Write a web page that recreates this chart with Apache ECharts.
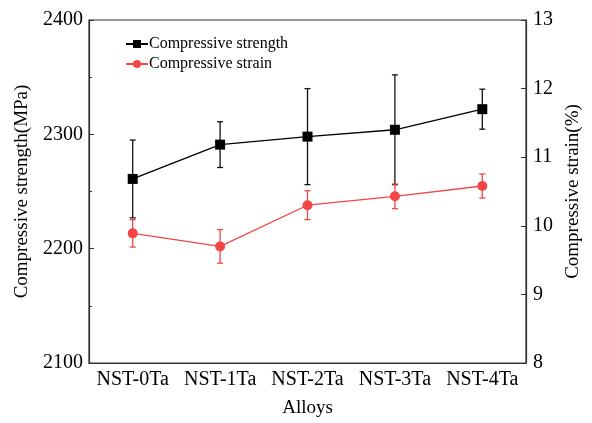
<!DOCTYPE html>
<html><head><meta charset="utf-8">
<script src="https://cdn.jsdelivr.net/npm/echarts@6/dist/echarts.min.js"></script>
<style>html,body{margin:0;padding:0;background:#fff}#c{width:592px;height:423px}</style>
</head><body><div id="c"></div>
<script>
const categories = ['NST-0Ta','NST-1Ta','NST-2Ta','NST-3Ta','NST-4Ta'];
const strength = [2261, 2291, 2298, 2304, 2322];
const strengthErr = [34, 20, 42, 48, 17.5];
const strain = [9.89, 9.70, 10.30, 10.43, 10.58];
const strainErr = [0.20, 0.245, 0.21, 0.18, 0.175];
const leftTicks = [2100, 2400, 100];
const rightTicks = [8, 13, 1];

const FONT = 'Liberation Serif';
const RED = '#f24545';

function errSeries(vals, errs, yIdx, color, name) {
  return {
    type: 'custom', name: name, yAxisIndex: yIdx, z: 1, silent: true,
    data: vals.map((v, i) => [i, v - errs[i], v + errs[i]]),
    renderItem: function (params, api) {
      const x = api.value(0);
      const lo = api.coord([x, api.value(1)]);
      const hi = api.coord([x, api.value(2)]);
      const hw = 3;
      const st = { stroke: color, lineWidth: 1.3 };
      return { type: 'group', children: [
        { type: 'line', shape: { x1: lo[0], y1: lo[1], x2: hi[0], y2: hi[1] }, style: st },
        { type: 'line', shape: { x1: lo[0]-hw, y1: lo[1], x2: lo[0]+hw, y2: lo[1] }, style: st },
        { type: 'line', shape: { x1: hi[0]-hw, y1: hi[1], x2: hi[0]+hw, y2: hi[1] }, style: st }
      ]};
    }
  };
}

const chart = echarts.init(document.getElementById('c'));
chart.setOption({
  animation: false,
  textStyle: { fontFamily: FONT },
  grid: { left: 89, right: 66, top: 20, bottom: 53, show: true, borderColor: '#333', borderWidth: 1.2 },
  legend: {
    orient: 'vertical', left: 120, top: 31, itemGap: 4, itemWidth: 22, itemHeight: 10,
    textStyle: { fontFamily: FONT, fontSize: 16, color: '#000', padding: [0,0,0,-4] },
    data: ['Compressive strength', 'Compressive strain']
  },
  xAxis: {
    type: 'category', data: categories, boundaryGap: true,
    name: 'Alloys', nameLocation: 'middle', nameGap: 36,
    nameTextStyle: { fontFamily: FONT, fontSize: 19, color: '#000' },
    axisLine: { lineStyle: { color: '#333', width: 1.2 } },
    axisTick: { inside: true, alignWithLabel: true, length: 4, lineStyle: { color: '#333' } },
    axisLabel: { fontFamily: FONT, fontSize: 20, color: '#000', margin: 7, interval: 0 }
  },
  yAxis: [{
    type: 'value', min: leftTicks[0], max: leftTicks[1], interval: leftTicks[2],
    name: 'Compressive strength(MPa)', nameLocation: 'middle', nameGap: 57,
    nameTextStyle: { fontFamily: FONT, fontSize: 19, color: '#000' },
    axisLine: { show: true, lineStyle: { color: '#333', width: 1.2 } },
    axisTick: { show: true, inside: true, length: 5, lineStyle: { color: '#333' } },
    minorTick: { show: true, splitNumber: 2, length: 3, lineStyle: { color: '#333' } },
    splitLine: { show: false },
    axisLabel: { fontFamily: FONT, fontSize: 20, color: '#000', margin: 6, formatter: v => String(v) }
  }, {
    type: 'value', min: rightTicks[0], max: rightTicks[1], interval: rightTicks[2], position: 'right',
    name: 'Compressive strain(%)', nameLocation: 'middle', nameGap: 36, nameRotate: 90,
    nameTextStyle: { fontFamily: FONT, fontSize: 19, color: '#000' },
    axisLine: { show: true, lineStyle: { color: '#333', width: 1.2 } },
    axisTick: { show: true, inside: true, length: 5, lineStyle: { color: '#333' } },
    splitLine: { show: false },
    axisLabel: { fontFamily: FONT, fontSize: 20, color: '#000', margin: 7, formatter: v => String(v) }
  }],
  series: [
    errSeries(strength, strengthErr, 0, '#111', 'errS'),
    errSeries(strain, strainErr, 1, RED, 'errE'),
    { type: 'line', name: 'Compressive strength', yAxisIndex: 0, data: strength, z: 3,
      symbol: 'rect', symbolSize: 10, itemStyle: { color: '#000' },
      lineStyle: { color: '#000', width: 1.3 } },
    { type: 'line', name: 'Compressive strain', yAxisIndex: 1, data: strain, z: 3,
      symbol: 'circle', symbolSize: 10, itemStyle: { color: RED },
      lineStyle: { color: RED, width: 1.3 } }
  ]
});
</script></body></html>
